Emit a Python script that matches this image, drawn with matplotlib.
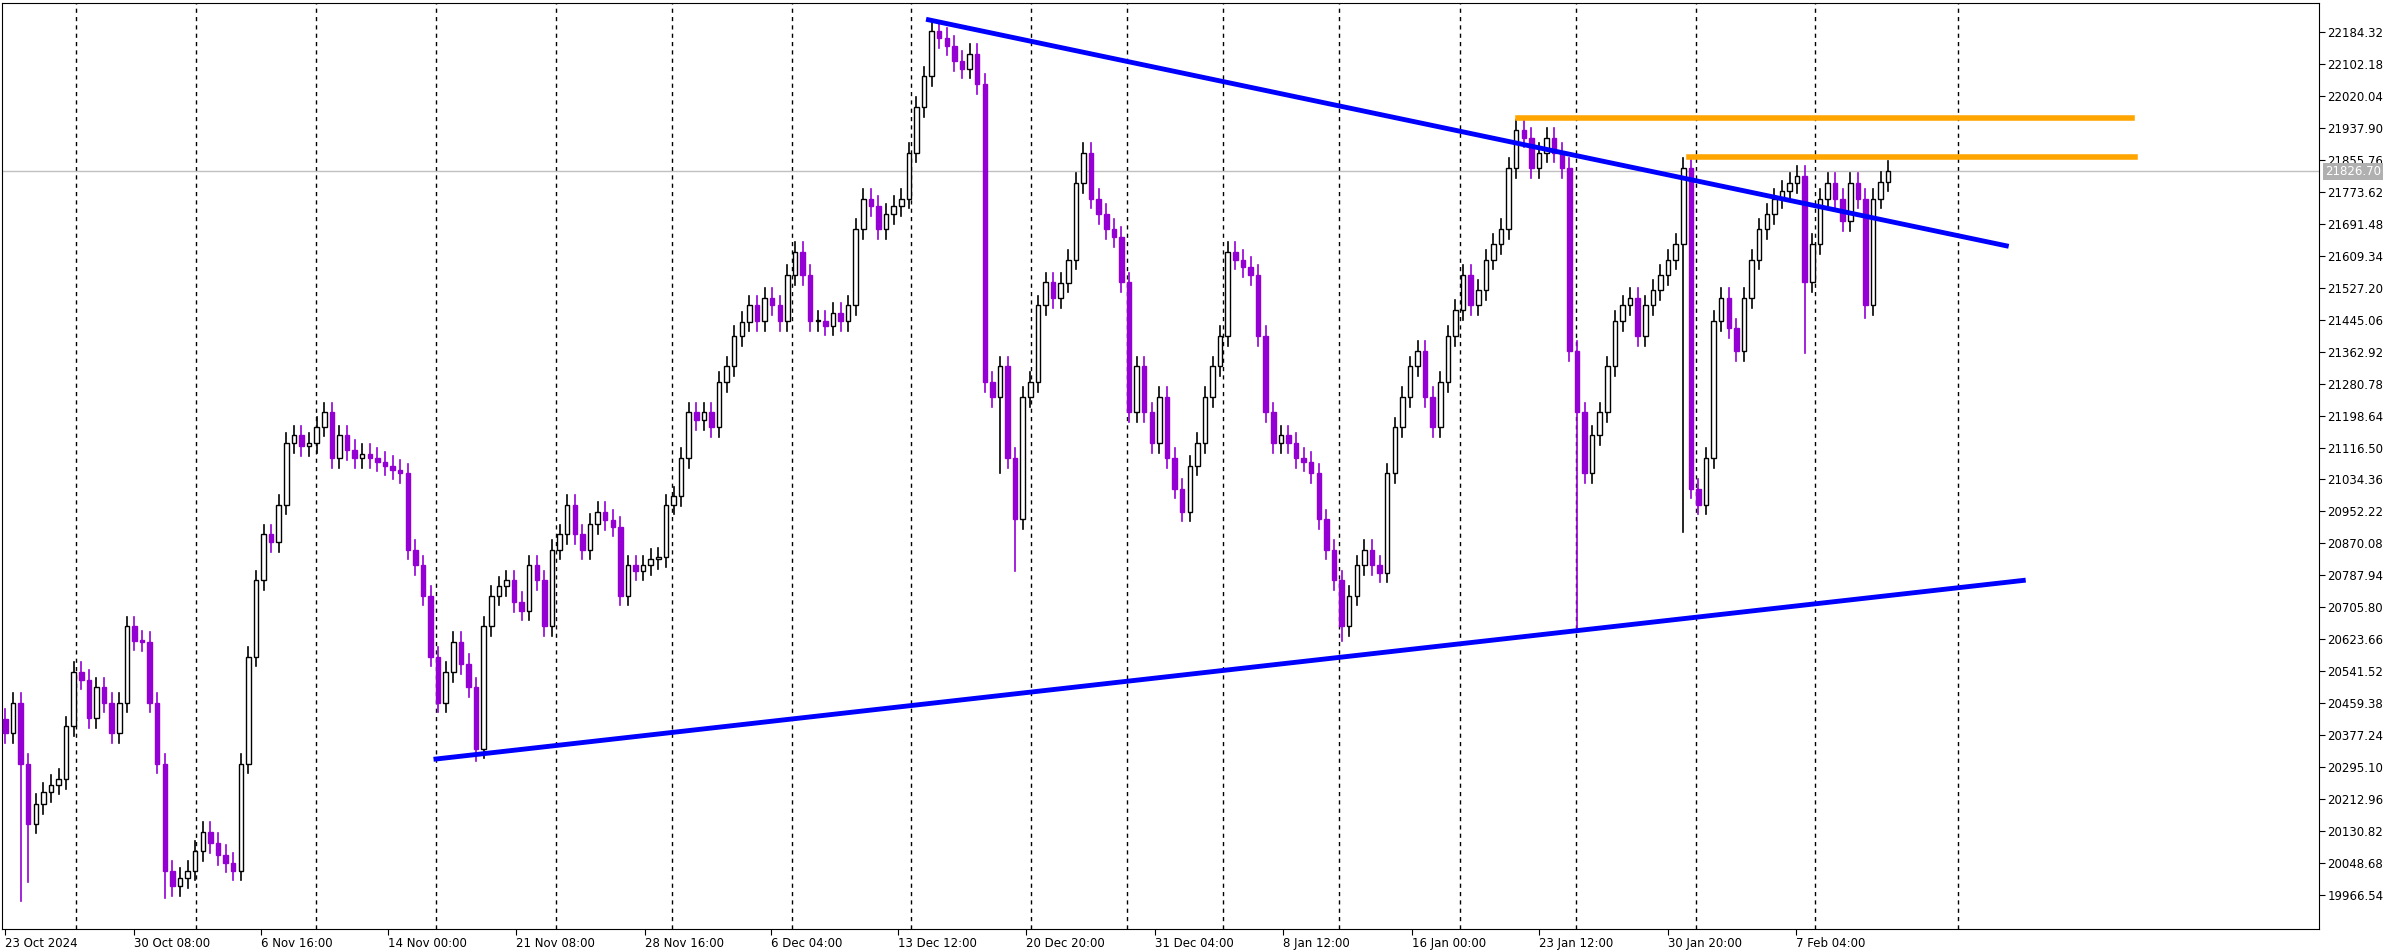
import matplotlib
matplotlib.use("Agg")
import matplotlib.pyplot as plt
import numpy as np

# H4 closes (one value per ~2 bars)
closes = [
    20383, 20461, 20304, 20150, 20200, 20230, 20250, 20265, 20400, 20540,
    20520, 20422, 20500, 20461, 20383, 20461, 20657, 20620, 20618, 20461,
    20304, 20029, 19990, 20010, 20029, 20080, 20128, 20100, 20069, 20050,
    20029, 20304, 20579, 20775, 20893, 20873, 20970, 21128, 21148, 21120,
    21128, 21170, 21207, 21089, 21148, 21110, 21089, 21100, 21089, 21080,
    21070, 21060, 21050, 20854, 20814, 20736, 20579, 20461, 20540, 20618,
    20560, 20500, 20343, 20657, 20736, 20760, 20775, 20720, 20697, 20814,
    20775, 20657, 20854, 20893, 20970, 20893, 20854, 20920, 20952, 20930,
    20913, 20736, 20814, 20800, 20814, 20830, 20834, 20970, 20991, 21089,
    21207, 21187, 21207, 21168, 21285, 21325, 21403, 21440, 21482, 21442,
    21501, 21482, 21442, 21560, 21619, 21560, 21442, 21442, 21430, 21462,
    21442, 21482, 21678, 21756, 21737, 21678, 21717, 21737, 21756, 21874,
    21992, 22070, 22188, 22169, 22149, 22110, 22090, 22129, 22051, 21285,
    21246, 21325, 21089, 20932, 21246, 21285, 21482, 21541, 21501, 21540,
    21599, 21796, 21874, 21756, 21717, 21678, 21658, 21541, 21207, 21325,
    21207, 21128, 21246, 21089, 21011, 20952, 21070, 21128, 21246, 21325,
    21403, 21619, 21599, 21580, 21560, 21403, 21207, 21128, 21148, 21128,
    21089, 21080, 21050, 20932, 20854, 20775, 20657, 20736, 20814, 20854,
    20814, 20795, 21050, 21168, 21246, 21325, 21364, 21246, 21168, 21285,
    21403, 21470, 21560, 21482, 21521, 21599, 21640, 21678, 21835, 21933,
    21913, 21835, 21874, 21913, 21874, 21835, 21364, 21207, 21050, 21148,
    21207, 21325, 21442, 21482, 21501, 21403, 21482, 21521, 21560, 21599,
    21639, 21835, 21011, 20970, 21089, 21442, 21501, 21423, 21364, 21501,
    21599, 21678, 21717, 21756, 21776, 21796, 21815, 21541, 21639, 21756,
    21796, 21756, 21698, 21796, 21756, 21482, 21756, 21800, 21826.7,
]
first_open = 20420
long_lows = {2: 19951, 3: 20000, 21: 19960, 62: 20310, 131: 21050, 133: 20800,
             176: 20620, 207: 20650, 221: 20900, 237: 21360, 245: 21450}

tick_pos = [3, 132, 259, 386, 514, 643, 769, 897, 1025, 1154, 1282, 1411, 1538, 1667, 1795]
tick_labels = ["23 Oct 2024", "30 Oct 08:00", "6 Nov 16:00", "14 Nov 00:00", "21 Nov 08:00",
               "28 Nov 16:00", "6 Dec 04:00", "13 Dec 12:00", "20 Dec 20:00", "31 Dec 04:00",
               "8 Jan 12:00", "16 Jan 00:00", "23 Jan 12:00", "30 Jan 20:00", "7 Feb 04:00"]
grid_pos = [74, 194, 314, 434, 554, 670, 790, 910, 1030, 1126, 1222, 1338, 1459, 1575, 1695, 1814, 1958]

upper_line = ([927, 2006], [22215.7, 21634.8])
lower_line = ([434, 2023], [20316, 20775])
res_lines = [([1517, 2132], [21964.5, 21964.5]), ([1688, 2135], [21862.4, 21862.4])]

price_ticks = [19966.54 + 82.14 * k for k in range(28)]
last_price = 21826.70

fig = plt.figure(figsize=(23.96, 9.51), dpi=100)
ax = fig.add_axes([0.001, 1 - 929 / 951, 2319 / 2396 - 0.001, 926 / 951])

step = 7.6
purple = "#9400D3"
opens = [first_open] + closes[:-1]
for i, (o, c) in enumerate(zip(opens, closes)):
    x = 3 + i * step
    hi = max(o, c) + 25
    lo = min(o, c) - 25
    lo = min(lo, long_lows.get(i, lo))
    up = c >= o
    col = "black" if up else purple
    ax.plot([x, x], [lo, hi], color=col, lw=1.2, zorder=2)
    ax.bar(x, max(abs(c - o), 3), bottom=min(o, c), width=4.5,
           color="white" if up else purple, edgecolor=col, linewidth=1.0, zorder=3)

for g in grid_pos:
    ax.axvline(g, color="black", lw=1, ls=(0, (3, 3)), zorder=1)
ax.axhline(last_price, color="#c0c0c0", lw=1, zorder=1)

ax.plot(*upper_line, color="#0000ff", lw=3.5, zorder=4)
ax.plot(*lower_line, color="#0000ff", lw=3.5, zorder=4)
for xs, ys in res_lines:
    ax.plot(xs, ys, color="#ffa500", lw=4, zorder=4)

ax.set_xlim(0, 2319)
ax.set_ylim(19879.2, 22258.8)
ax.set_xticks(tick_pos)
ax.set_xticklabels(tick_labels, ha="left", fontsize=8.5)
ax.yaxis.tick_right()
ax.set_yticks(price_ticks)
ax.set_yticklabels([f"{p:.2f}" for p in price_ticks], fontsize=8.5)
ax.tick_params(length=4, pad=2)
ax.text(2325, last_price, f"{last_price:.2f}", transform=ax.transData, clip_on=False,
        fontsize=8.5, color="white", va="center", ha="left",
        bbox=dict(facecolor="#b0b0b0", edgecolor="none", pad=1.5))
ax.text(8, 0.993, "NQ100, H4:  CFD based on spot on index E-mini Nasdaq 100   21814.20 21849.40 21796.20 21826.70",
        transform=ax.get_yaxis_transform(), fontsize=8.5, va="top", ha="left")

plt.savefig("out.png", dpi=100)
